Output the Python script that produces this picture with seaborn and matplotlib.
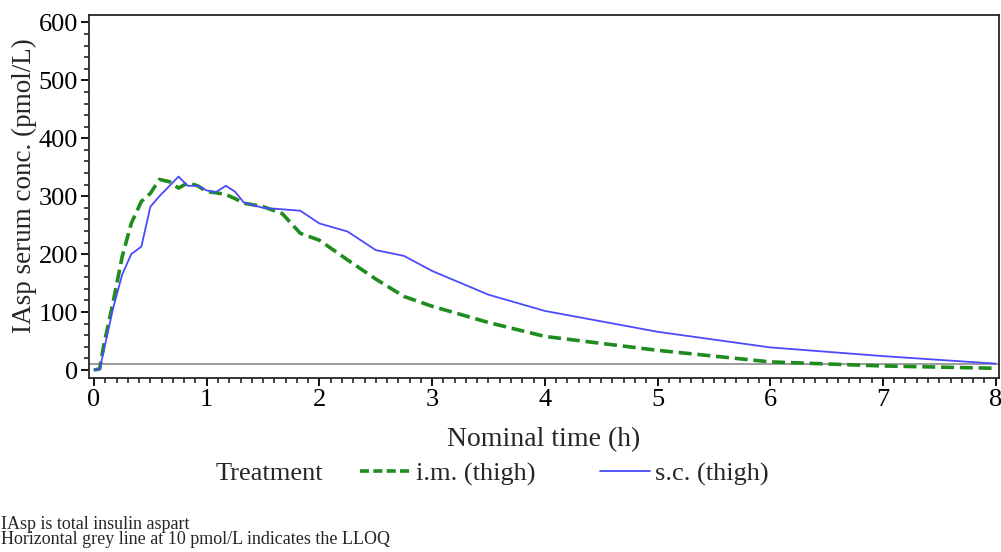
import numpy as np
import pandas as pd
import matplotlib
matplotlib.use('Agg')
import matplotlib.pyplot as plt
import seaborn as sns
from matplotlib.ticker import MultipleLocator
from matplotlib.lines import Line2D

# --- Datos ---
t_im = [0, 0.05, 0.083, 0.167, 0.25, 0.33, 0.42, 0.5, 0.58, 0.67, 0.75, 0.83, 0.92,
        1.0, 1.08, 1.17, 1.25, 1.33, 1.5, 1.67, 1.83, 2.0, 2.25, 2.5, 2.75, 3.0,
        3.5, 4.0, 5.0, 6.0, 7.0, 8.0]
conc_im = [0, 2, 40, 115, 196, 253, 291, 305, 329, 325, 314, 323, 318,
           308, 306, 303, 296, 288, 282, 270, 236, 224, 190, 157, 127, 110,
           82, 58, 34, 14, 7, 3]

t_sc = [0, 0.05, 0.083, 0.167, 0.25, 0.33, 0.42, 0.5, 0.58, 0.67, 0.75, 0.83, 0.92,
        1.0, 1.08, 1.17, 1.25, 1.33, 1.5, 1.83, 2.0, 2.25, 2.5, 2.75, 3.0,
        3.5, 4.0, 5.0, 6.0, 7.0, 8.0]
conc_sc = [0, 2, 30, 105, 165, 200, 213, 282, 300, 318, 334, 318, 318,
           310, 307, 318, 308, 289, 280, 275, 253, 239, 207, 197, 171,
           130, 102, 66, 39, 24, 11]

treatments = ['i.m. (thigh)', 's.c. (thigh)']
colores = ['#1e8c1e', '#4a4aff']
lloq = 10

df = pd.concat([
    pd.DataFrame({'time': t_im, 'conc': conc_im, 'treatment': treatments[0]}),
    pd.DataFrame({'time': t_sc, 'conc': conc_sc, 'treatment': treatments[1]}),
])

sns.set_style('ticks')
plt.rcParams['font.family'] = ['Liberation Serif', 'DejaVu Serif']

fig = plt.figure(figsize=(10.01, 5.52), dpi=100)
ax = fig.add_axes([0.089, 0.315, 0.909, 0.658])

sns.lineplot(data=df, x='time', y='conc', hue='treatment', style='treatment',
             palette=colores, dashes={treatments[0]: (4, 2), treatments[1]: ''},
             ax=ax, legend=False, estimator=None)
lines = ax.get_lines()
lines[0].set_linewidth(2.6)
lines[0].set_dashes((3.6, 1.6))
lines[1].set_linewidth(1.3)

# linea del LLOQ
ax.axhline(lloq, color='#8c8c8c', linewidth=1.2, zorder=0)

ax.set_xlim(-0.044, 8.03)
ax.set_ylim(-14, 613)
ax.xaxis.set_major_locator(MultipleLocator(1))
ax.xaxis.set_minor_locator(MultipleLocator(0.1))
ax.yaxis.set_major_locator(MultipleLocator(100))
ax.yaxis.set_minor_locator(MultipleLocator(20))
ax.tick_params(which='major', length=6, width=1.3, labelsize=19, colors='black', pad=2)
ax.tick_params(which='minor', length=3.5, width=1.2)
for s in ax.spines.values():
    s.set_linewidth(1.3)
    s.set_visible(True)

ax.set_xlabel('Nominal time (h)', fontsize=20)
ax.set_ylabel('IAsp serum conc. (pmol/L)', fontsize=19.5)
ax.xaxis.set_label_coords(0.5, -0.135)
ax.yaxis.set_label_coords(-0.057, 0.53)

handles = [Line2D([], [], color=colores[0], lw=2.6, dashes=(2.5, 1.2)),
           Line2D([], [], color=colores[1], lw=1.3)]
fig.text(0.269, 0.142, 'Treatment', fontsize=19, ha='center', va='center')
fig.legend(handles, treatments, loc='center left', bbox_to_anchor=(0.336, 0.142),
           ncol=2, frameon=False, fontsize=19, handlelength=1.9, handletextpad=0.2,
           columnspacing=2.45)

fig.text(0.001, 0.008, 'IAsp is total insulin aspart\nHorizontal grey line at 10 pmol/L indicates the LLOQ',
         fontsize=13, ha='left', va='bottom', linespacing=0.8)

fig.savefig('out.png', dpi=100, facecolor='white')
